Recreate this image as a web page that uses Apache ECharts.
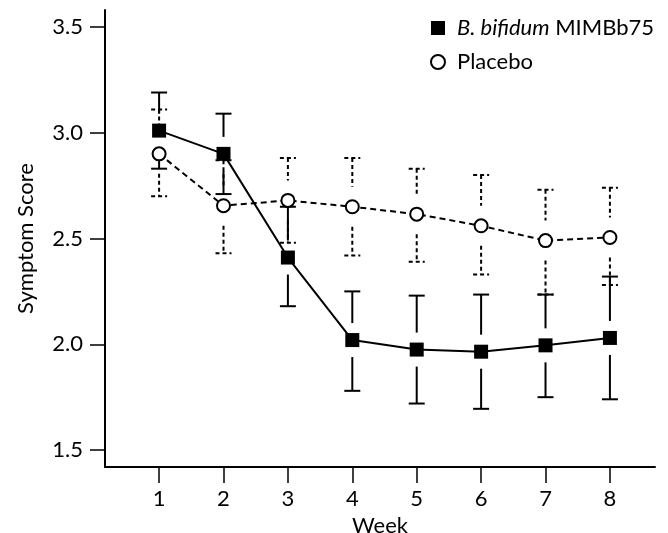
<!DOCTYPE html>
<html>
<head>
<meta charset="utf-8">
<script src="https://cdn.jsdelivr.net/npm/echarts@6/dist/echarts.min.js"></script>
<style>
html, body { margin: 0; padding: 0; background: #fff; }
#main { width: 668px; height: 533px; }
</style>
</head>
<body>
<div id="main"></div>
<script>
// data
var weeks = [1, 2, 3, 4, 5, 6, 7, 8];
var bifidumMean  = [3.01, 2.90, 2.41, 2.02, 1.975, 1.965, 1.995, 2.03];
var bifidumUpper = [3.19, 3.09, 2.65, 2.25, 2.23, 2.235, 2.235, 2.32];
var bifidumLower = [2.83, 2.71, 2.18, 1.78, 1.72, 1.695, 1.75, 1.74];
var placeboMean  = [2.90, 2.655, 2.68, 2.65, 2.615, 2.56, 2.49, 2.505];
var placeboUpper = [3.11, 2.87, 2.88, 2.88, 2.83, 2.80, 2.73, 2.74];
var placeboLower = [2.70, 2.43, 2.48, 2.42, 2.39, 2.33, 2.235, 2.28];
var yTicks = [1.5, 2.0, 2.5, 3.0, 3.5];

var FONT = 'Lato';
var FS = 22;

function pairs(vals) {
  return weeks.map(function (w, i) { return [w, vals[i]]; });
}
function errData(mean, lower, upper) {
  return weeks.map(function (w, i) { return [w, mean[i], lower[i], upper[i]]; });
}

// error bars: cap + stem, stem stops short of the marker
function errRender(dashed, gap) {
  return function (params, api) {
    var x = api.value(0);
    var m = api.coord([x, api.value(1)]);
    var lo = api.coord([x, api.value(2)]);
    var hi = api.coord([x, api.value(3)]);
    var cap = 8;
    function st() {
      return { stroke: '#000', lineWidth: 2, lineDash: dashed ? [4, 3] : null };
    }
    var kids = [];
    kids.push({ type: 'line', shape: { x1: hi[0] - cap, y1: hi[1], x2: hi[0] + cap, y2: hi[1] }, style: st() });
    kids.push({ type: 'line', shape: { x1: lo[0] - cap, y1: lo[1], x2: lo[0] + cap, y2: lo[1] }, style: st() });
    if (m[1] - gap > hi[1]) {
      kids.push({ type: 'line', shape: { x1: hi[0], y1: hi[1], x2: hi[0], y2: m[1] - gap }, style: st() });
    }
    if (m[1] + gap < lo[1]) {
      kids.push({ type: 'line', shape: { x1: lo[0], y1: m[1] + gap, x2: lo[0], y2: lo[1] }, style: st() });
    }
    return { type: 'group', children: kids };
  };
}

var chart = echarts.init(document.getElementById('main'));
var option = {
  animation: false,
  backgroundColor: '#fff',
  textStyle: { fontFamily: FONT, color: '#000' },
  grid: { left: 105, right: 13, top: 10, bottom: 66, outerBoundsMode: 'none', containLabel: false },
  legend: {
    orient: 'vertical',
    left: 425,
    top: 11,
    itemWidth: 14,
    itemHeight: 14,
    itemGap: 10,
    data: [
      { name: 'B. bifidum MIMBb75', icon: 'rect', itemStyle: { color: '#000', borderWidth: 0 } },
      { name: 'Placebo', icon: 'circle', itemStyle: { color: '#fff', borderColor: '#000', borderWidth: 2 } }
    ],
    formatter: function (name) {
      if (name === 'Placebo') return '{s|}Placebo';
      return '{s|}{i|B. bifidum} MIMBb75';
    },
    textStyle: {
      fontFamily: FONT,
      fontSize: FS,
      lineHeight: 24,
      color: '#000',
      rich: {
        s: { width: 7 },
        i: { fontStyle: 'italic', fontSize: FS, fontFamily: FONT, color: '#000' }
      }
    }
  },
  xAxis: {
    type: 'value',
    min: 0.16,
    max: 8.7,
    name: 'Week',
    nameLocation: 'middle',
    nameGap: 43,
    nameTextStyle: { fontSize: FS, color: '#000', fontFamily: FONT },
    axisLine: { show: true, lineStyle: { color: '#000', width: 2 } },
    axisTick: { show: true, customValues: weeks, length: 16, lineStyle: { color: '#000', width: 1.5 } },
    axisLabel: { customValues: weeks, margin: 21, fontSize: FS, color: '#000', fontFamily: FONT },
    splitLine: { show: false }
  },
  yAxis: {
    type: 'value',
    min: 1.42,
    max: 3.58,
    name: 'Symptom Score',
    nameLocation: 'middle',
    nameGap: 68,
    nameRotate: 90,
    nameTextStyle: { fontSize: FS, color: '#000', fontFamily: FONT },
    axisLine: { show: true, lineStyle: { color: '#000', width: 2 } },
    axisTick: { show: true, customValues: yTicks, length: 15, lineStyle: { color: '#000', width: 1.5 } },
    axisLabel: {
      customValues: yTicks,
      margin: 22,
      fontSize: FS,
      color: '#000',
      fontFamily: FONT,
      formatter: function (v) { return v.toFixed(1); }
    },
    splitLine: { show: false }
  },
  series: [
    {
      name: 'bifidum err',
      type: 'custom',
      renderItem: errRender(false, 17),
      encode: { x: 0, y: [1, 2, 3] },
      data: errData(bifidumMean, bifidumLower, bifidumUpper),
      z: 1
    },
    {
      name: 'placebo err',
      type: 'custom',
      renderItem: errRender(true, 20),
      encode: { x: 0, y: [1, 2, 3] },
      data: errData(placeboMean, placeboLower, placeboUpper),
      z: 1
    },
    {
      name: 'Placebo',
      type: 'line',
      data: pairs(placeboMean),
      symbol: 'circle',
      symbolSize: 13,
      lineStyle: { color: '#000', width: 2, type: [6, 4] },
      itemStyle: { color: '#fff', borderColor: '#000', borderWidth: 2 },
      z: 3
    },
    {
      name: 'B. bifidum MIMBb75',
      type: 'line',
      data: pairs(bifidumMean),
      symbol: 'rect',
      symbolSize: 14,
      lineStyle: { color: '#000', width: 2 },
      itemStyle: { color: '#000', borderWidth: 0 },
      z: 4
    }
  ]
};
chart.setOption(option);
</script>
</body>
</html>
